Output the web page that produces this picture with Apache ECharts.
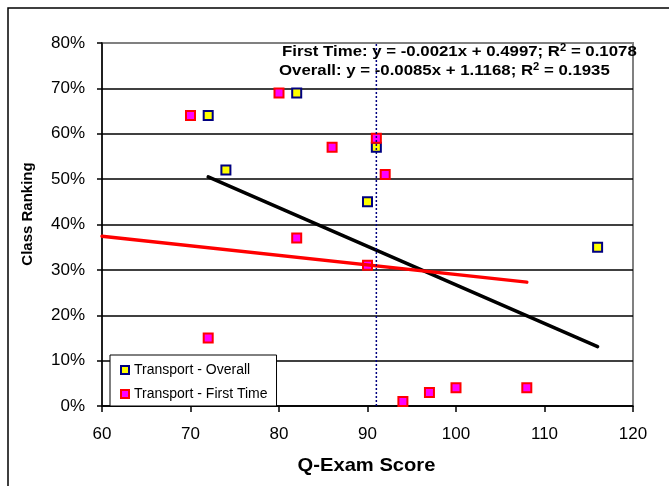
<!DOCTYPE html>
<html><head><meta charset="utf-8">
<script src="https://cdn.jsdelivr.net/npm/echarts@6/dist/echarts.min.js"></script>
<style>html,body{margin:0;padding:0;background:#fff}#c{width:669px;height:486px}</style>
</head><body><div id="c"></div>
<script>
const FONT = '"Liberation Sans", Arial, sans-serif';
const overallScores = [72, 74, 82, 90, 91, 116];
const overallRanks  = [0.64, 0.52, 0.69, 0.45, 0.57, 0.35];
const firstScores = [70, 72, 80, 82, 86, 90, 91, 92, 94, 97, 100, 108];
const firstRanks  = [0.64, 0.15, 0.69, 0.37, 0.57, 0.31, 0.59, 0.51, 0.01, 0.03, 0.04, 0.04];
const overallTrendX = [72, 116];
const overallTrendY = [0.505, 0.131];
const firstTrendX = [60, 108];
const firstTrendY = [0.374, 0.273];
const cutoffScore = 91;
const seriesNames = ['Transport - Overall', 'Transport - First Time'];
const equationFirst = 'First Time: y = -0.0021x + 0.4997; R';
const equationFirstTail = ' = 0.1078';
const equationOverall = 'Overall: y = -0.0085x + 1.1168; R';
const equationOverallTail = ' = 0.1935';
const xTitle = 'Q-Exam Score';
const yTitle = 'Class Ranking';

const zip = (a, b) => a.map((v, i) => [v, b[i]]);
const eqRich = {
  m: { font: 'bold 15px ' + FONT, fill: '#000' },
  s: { font: 'bold 10px ' + FONT, fill: '#000', verticalAlign: 'top', padding: [0, 0, 8, 0] }
};

const chart = echarts.init(document.getElementById('c'));
chart.setOption({
  animation: false,
  backgroundColor: '#fff',
  textStyle: { fontFamily: FONT },
  grid: { left: 102, right: 36, top: 43, bottom: 80, show: true, borderColor: '#808080', borderWidth: 2, backgroundColor: '#fff' },
  xAxis: {
    type: 'value', min: 60, max: 120, interval: 10,
    axisLine: { show: true, lineStyle: { color: '#000', width: 1.5 } },
    axisTick: { show: true, inside: false, length: 6, lineStyle: { color: '#000', width: 1.5 } },
    axisLabel: { color: '#000', fontSize: 17, fontFamily: FONT, margin: 20 },
    splitLine: { show: false }
  },
  yAxis: {
    type: 'value', min: 0, max: 0.8, interval: 0.1,
    axisLine: { show: true, lineStyle: { color: '#000', width: 1.5 } },
    axisTick: { show: true, inside: false, length: 5, lineStyle: { color: '#000', width: 1.5 } },
    axisLabel: { color: '#000', fontSize: 17, fontFamily: FONT, margin: 17,
      formatter: v => Math.round(v * 100) + '%' },
    splitLine: { show: true, lineStyle: { color: ['#000','#000','#000','#000','#000','#000','#000','#000','#808080'], width: 1.5 } }
  },
  legend: {
    data: seriesNames,
    orient: 'vertical', left: 110, top: 355,
    backgroundColor: '#fff', borderColor: '#000', borderWidth: 1,
    padding: [7, 9, 4, 10],
    itemWidth: 8, itemHeight: 8, itemGap: 8,
    textStyle: { fontSize: 14, fontFamily: FONT, color: '#000', lineHeight: 16 },
    z: 10
  },
  series: [
    { name: seriesNames[0], type: 'scatter', data: zip(overallScores, overallRanks),
      symbol: 'rect', symbolSize: 9,
      itemStyle: { color: '#FFFF00', borderColor: '#000080', borderWidth: 2, opacity: 1 } },
    { name: seriesNames[1], type: 'scatter', data: zip(firstScores, firstRanks),
      symbol: 'rect', symbolSize: 9,
      itemStyle: { color: '#FF00FF', borderColor: '#FF0000', borderWidth: 2, opacity: 1 } },
    { name: 'overallTrend', type: 'line', data: zip(overallTrendX, overallTrendY),
      showSymbol: false, symbol: 'none', lineStyle: { color: '#000', width: 3.5, cap: 'round' } },
    { name: 'firstTrend', type: 'line', data: zip(firstTrendX, firstTrendY),
      showSymbol: false, symbol: 'none', lineStyle: { color: '#FF0000', width: 3.5, cap: 'round' } },
    { name: 'cutoff', type: 'line', data: [[cutoffScore, 0], [cutoffScore, 0.8]],
      showSymbol: false, symbol: 'none', lineStyle: { color: '#000080', width: 1.5, type: [2, 2] } }
  ],
  graphic: [
    { type: 'rect', shape: { x: 8, y: 8, width: 720, height: 520 },
      style: { fill: 'none', stroke: '#000', lineWidth: 1.5 }, silent: true, z: 100 },
    { type: 'text', x: 28, y: 214, rotation: Math.PI / 2,
      style: { text: yTitle, font: 'bold 15px ' + FONT, fill: '#000', align: 'center', verticalAlign: 'middle' } },
    { type: 'text', x: 366.5, y: 466, scaleX: 1.09,
      style: { text: xTitle, font: 'bold 18.5px ' + FONT, fill: '#000', align: 'center', verticalAlign: 'middle' } },
    { type: 'text', x: 282, y: 52, z: 20, scaleX: 1.12,
      style: { text: '{m|' + equationFirst + '}{s|2}{m|' + equationFirstTail + '}', align: 'left', verticalAlign: 'middle', rich: eqRich } },
    { type: 'text', x: 279, y: 71, z: 20, scaleX: 1.12,
      style: { text: '{m|' + equationOverall + '}{s|2}{m|' + equationOverallTail + '}', align: 'left', verticalAlign: 'middle', rich: eqRich } }
  ]
});
</script></body></html>
